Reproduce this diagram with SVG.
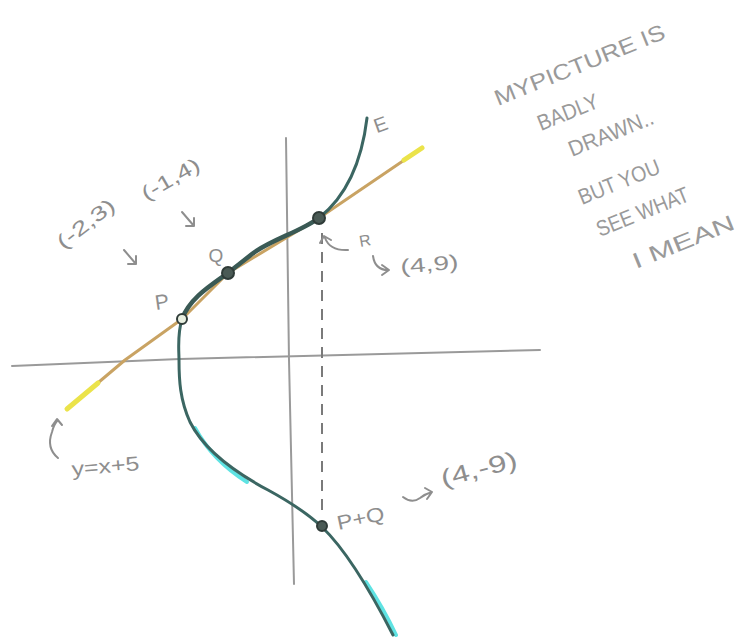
<svg xmlns="http://www.w3.org/2000/svg" width="742" height="637" viewBox="0 0 742 637">
<style>
.lbl{font-family:"Liberation Sans","DejaVu Sans",sans-serif;fill:#8e8e8e;}
.note{font-family:"Liberation Sans","DejaVu Sans",sans-serif;fill:#9a9a9a;font-size:22px;}
.ax{fill:none;stroke:#9a9a9a;stroke-width:2;stroke-linecap:round;}
.arr{fill:none;stroke:#8e8e8e;stroke-width:2;stroke-linecap:round;stroke-linejoin:round;}
.curve{fill:none;stroke:#3b6662;stroke-width:3;stroke-linecap:round;}
.hi{fill:none;stroke:#5fe3e3;stroke-width:4;stroke-linecap:round;}
.pt{fill:#4a5a55;stroke:#2f3b38;stroke-width:2;}
</style>
<rect width="742" height="637" fill="#ffffff"/>

<g id="axes">
<path class="ax" d="M12,366 L180,359 L540,350"/>
<path class="ax" d="M286,138 L289,360 L294,584"/>
</g>

<g id="line-y-x-5">
<path d="M67,409 L125,360 L182,319 L228,273 L319,218 L422,148" fill="none" stroke="#c9a363" stroke-width="3" stroke-linecap="round" stroke-linejoin="round"/>
<path d="M67,409 L98,383" fill="none" stroke="#ebe34a" stroke-width="5" stroke-linecap="round"/>
<path d="M404,160 L422,148" fill="none" stroke="#ebe34a" stroke-width="5" stroke-linecap="round"/>
</g>

<g id="curve-E">
<path class="hi" d="M195,428 C208,452 225,468 247,482"/>
<path class="hi" d="M366,582 C378,600 388,618 396,635"/>
<path class="curve" d="M367,118 C362,160 348,195 319,218 C300,232 270,240 252,254 C242,262 234,268 228,273 C210,286 190,298 182,319 C177,335 179,350 179,360 C179,380 180,400 190,422 C205,452 238,474 268,490 C290,502 306,512 322,527 C346,550 370,590 393,635"/>
<path class="curve" style="stroke-width:4.5;stroke:#3a5a55" d="M319,218 C300,232 270,240 252,254 C242,262 234,268 228,273 C210,286 190,298 182,319"/>
</g>

<g id="connectors">
<path d="M322,233 L322,516" fill="none" stroke="#7a7a7a" stroke-width="2" stroke-dasharray="11 8"/>
<path class="arr" d="M124,250 L136,264 M136,256 L136,264 L128,264"/>
<path class="arr" d="M182,212 L194,226 M194,218 L194,226 L186,226"/>
<path class="arr" d="M348,250 Q330,251 325,238 M320,243 L324,236 L331,240"/>
<path class="arr" d="M373,256 Q375,270 388,270 M382,265 L389,270 L382,275"/>
<path class="arr" d="M58,458 Q46,448 52,432 Q54,424 58,420 M52,426 L57,419 L62,425"/>
<path class="arr" d="M403,497 Q412,504 420,498 Q425,494 432,492 M425,488 L432,492 L427,499"/>
</g>

<g id="point-P"><circle class="pt" cx="182" cy="319" r="5" style="fill:#e8efe0"/></g>
<g id="point-Q"><circle class="pt" cx="228" cy="273" r="6"/></g>
<g id="point-R"><circle class="pt" cx="319" cy="218" r="6"/></g>
<g id="point-PQ"><circle class="pt" cx="322" cy="526" r="5"/></g>

<g id="labels">
<text class="lbl" font-size="20" text-anchor="middle" transform="translate(90,229) rotate(-38)" textLength="68" lengthAdjust="spacingAndGlyphs">(-2,3)</text>
<text class="lbl" font-size="20" text-anchor="middle" transform="translate(174,185) rotate(-30)" textLength="64" lengthAdjust="spacingAndGlyphs">(-1,4)</text>
<text class="lbl" font-size="21" text-anchor="middle" transform="translate(163,309) rotate(-8)">P</text>
<text class="lbl" font-size="19" text-anchor="middle" x="216" y="262">Q</text>
<text class="lbl" font-size="20" text-anchor="middle" transform="translate(383,131) rotate(-20)">E</text>
<text class="lbl" font-size="16" text-anchor="middle" transform="translate(366,246) rotate(-10)">R</text>
<text class="lbl" font-size="20" text-anchor="middle" transform="translate(430,271) rotate(-5)" textLength="58" lengthAdjust="spacingAndGlyphs">(4,9)</text>
<text class="lbl" font-size="20" text-anchor="middle" transform="translate(106,473) rotate(-5)" textLength="68" lengthAdjust="spacingAndGlyphs">y=x+5</text>
<text class="lbl" font-size="20" text-anchor="middle" transform="translate(362,525) rotate(-12)" textLength="48" lengthAdjust="spacingAndGlyphs">P+Q</text>
<text class="lbl" font-size="24" text-anchor="middle" transform="translate(481,477) rotate(-15)" textLength="78" lengthAdjust="spacingAndGlyphs">(4,-9)</text>
</g>

<g id="note">
<text class="note" transform="translate(498,106) rotate(-22)" textLength="182" lengthAdjust="spacingAndGlyphs">MYPICTURE  IS</text>
<text class="note" transform="translate(541,131) rotate(-22)" textLength="64" lengthAdjust="spacingAndGlyphs">BADLY</text>
<text class="note" transform="translate(572,157) rotate(-22)" textLength="90" lengthAdjust="spacingAndGlyphs">DRAWN..</text>
<text class="note" transform="translate(582,205) rotate(-22)" textLength="86" lengthAdjust="spacingAndGlyphs">BUT YOU</text>
<text class="note" transform="translate(600,237) rotate(-22)" textLength="98" lengthAdjust="spacingAndGlyphs">SEE WHAT</text>
<text class="note" transform="translate(636,269) rotate(-22)" textLength="108" lengthAdjust="spacingAndGlyphs">I MEAN</text>
</g>
</svg>
